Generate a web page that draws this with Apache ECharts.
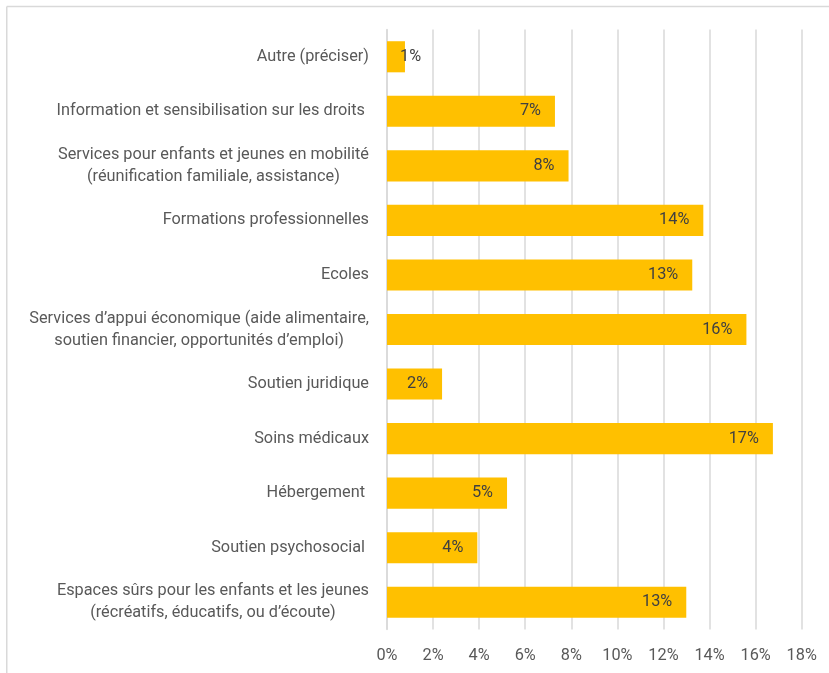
<!DOCTYPE html>
<html>
<head>
<meta charset="utf-8">
<script src="https://cdn.jsdelivr.net/npm/echarts@6/dist/echarts.min.js"></script>
<style>
html,body{margin:0;padding:0;background:#fff;}
#chart{width:829px;height:673px;}
</style>
</head>
<body>
<div id="chart"></div>
<script>
// Categories listed top to bottom as shown
const categories = [
  "Autre (préciser)",
  "Information et sensibilisation sur les droits ",
  "Services pour enfants et jeunes en mobilité\n(réunification familiale, assistance)",
  "Formations professionnelles",
  "Ecoles",
  "Services d’appui économique (aide alimentaire,\nsoutien financier, opportunités d’emploi)",
  "Soutien juridique",
  "Soins médicaux",
  "Hébergement ",
  "Soutien psychosocial ",
  "Espaces sûrs pour les enfants et les jeunes\n(récréatifs, éducatifs, ou d’écoute)"
];
// Values in percent
const values = [0.78, 7.29, 7.88, 13.73, 13.25, 15.6, 2.39, 16.75, 5.21, 3.92, 12.99];
const xTicks = [0, 2, 4, 6, 8, 10, 12, 14, 16, 18];

const FONT = "Roboto, 'Liberation Sans Narrow', sans-serif";
const FS = 16.3;
const TXT = '#595959';
const GRIDC = '#d9d9d9';

const chart = echarts.init(document.getElementById('chart'), null, {renderer: 'canvas'});

const seriesData = values.map((v, i) => {
  const item = {value: v};
  if (v < 2) {
    item.label = {position: 'insideLeft', distance: 13};
  }
  return item;
});

chart.setOption({
  animation: false,
  backgroundColor: '#fff',
  graphic: [
    {type: 'line', shape: {x1: 6.75, y1: 6.5, x2: 829, y2: 6.5}, style: {stroke: GRIDC, lineWidth: 1.5}, silent: true},
    {type: 'line', shape: {x1: 6.75, y1: 6.5, x2: 6.75, y2: 673}, style: {stroke: GRIDC, lineWidth: 1.5}, silent: true}
  ],
  grid: {left: 387, right: 27.3, top: 29.5, bottom: 43.5, containLabel: false, outerBoundsMode: 'none'},
  xAxis: {
    type: 'value',
    min: xTicks[0],
    max: xTicks[xTicks.length - 1],
    interval: xTicks[1] - xTicks[0],
    axisLine: {show: false},
    axisTick: {show: false},
    splitLine: {show: true, lineStyle: {color: GRIDC, width: 1.5}},
    axisLabel: {
      formatter: '{value}%',
      color: TXT,
      fontFamily: FONT,
      fontSize: FS,
      margin: 18
    }
  },
  yAxis: {
    type: 'category',
    inverse: true,
    data: categories,
    axisLine: {show: true, lineStyle: {color: GRIDC, width: 1.5}},
    axisTick: {show: false},
    axisLabel: {
      margin: 18,
      color: TXT,
      fontFamily: FONT,
      fontSize: FS,
      lineHeight: 22,
      formatter: function (val) {
        return val.split('\n').map(l => '{c|' + l + '}').join('\n');
      },
      rich: {
        c: {align: 'center', color: TXT, fontFamily: FONT, fontSize: FS, lineHeight: 22}
      }
    }
  },
  series: [{
    type: 'bar',
    data: seriesData,
    barCategoryGap: '43%',
    itemStyle: {color: '#FFC000'},
    label: {
      show: true,
      position: 'insideRight',
      distance: 14,
      color: '#404040',
      fontFamily: FONT,
      fontSize: FS,
      formatter: p => Math.round(p.value) + '%'
    }
  }]
});
</script>
</body>
</html>
